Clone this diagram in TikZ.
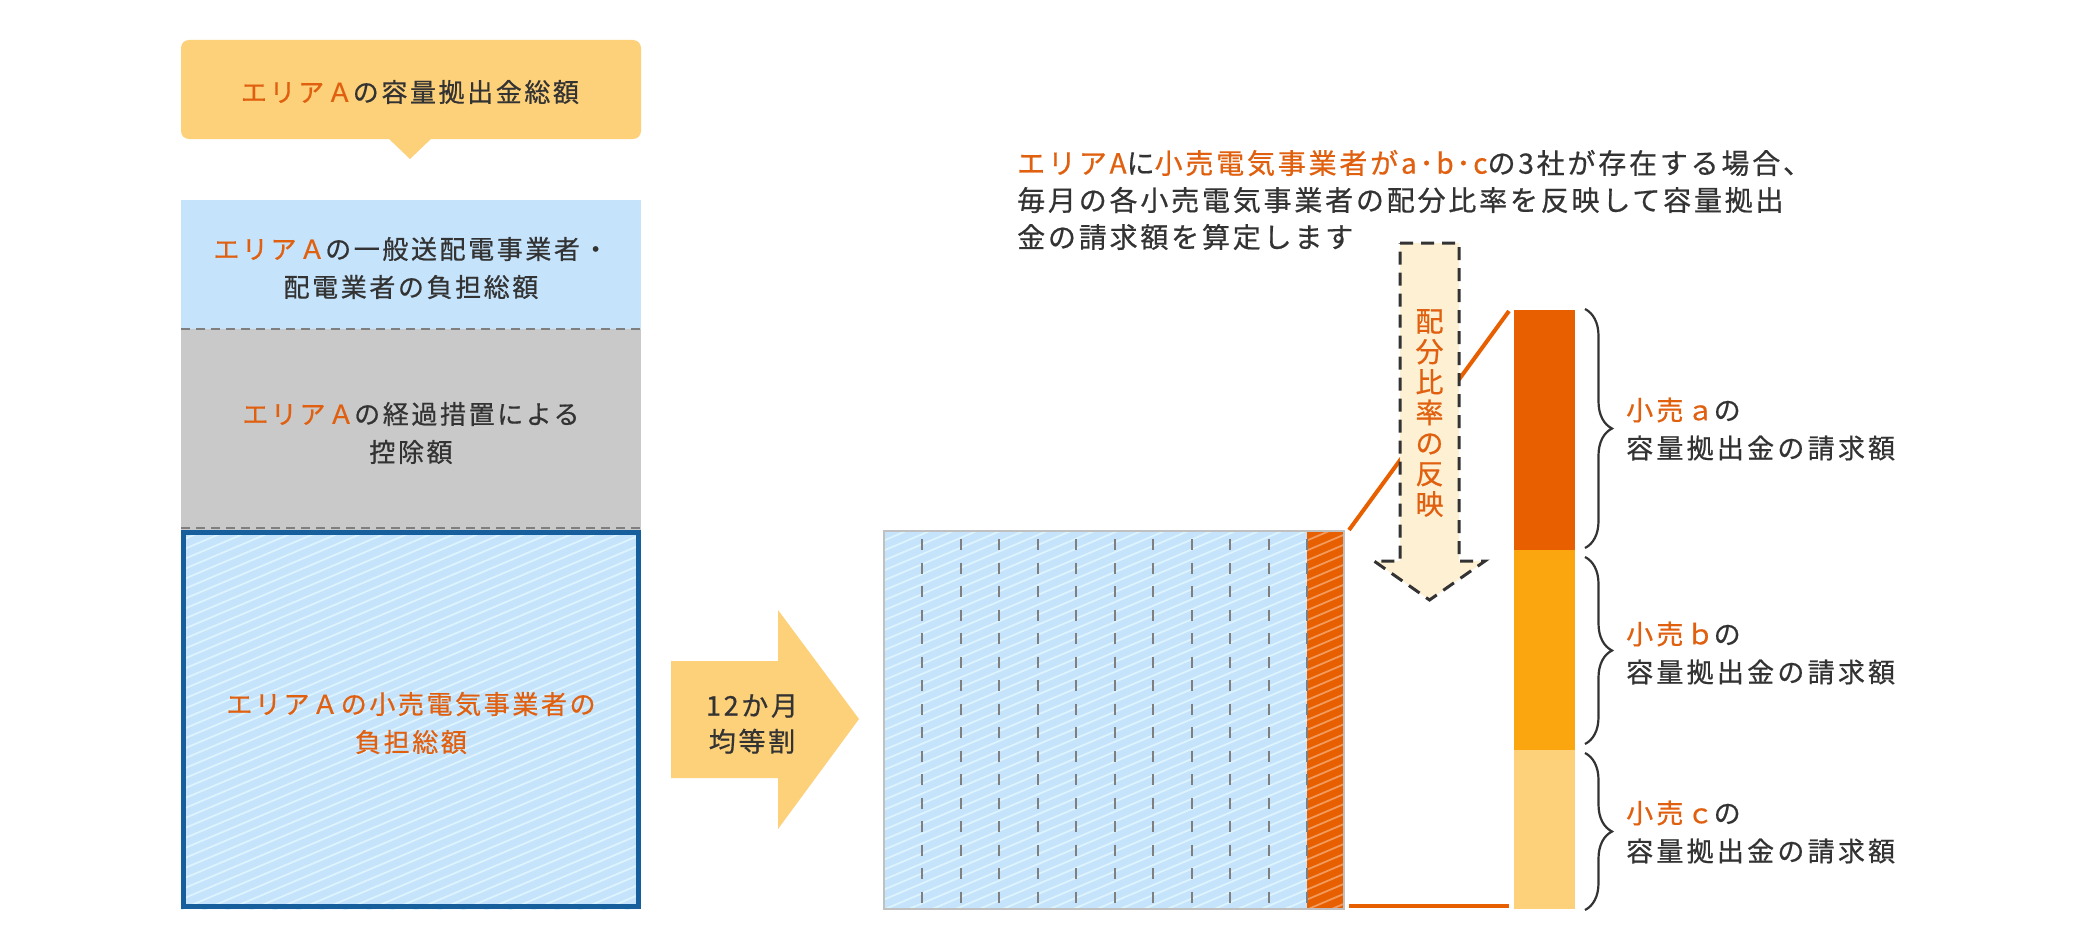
\documentclass[tikz,border=0pt]{standalone}
\usepackage{fontspec}
\setmainfont{Noto Sans CJK JP}[FakeBold=0.6]
\newfontfamily\jpa[LetterSpace=10,FakeBold=0.6]{Noto Sans CJK JP}
\newfontfamily\jpb[LetterSpace=12,FakeBold=0.6]{Noto Sans CJK JP}
\usetikzlibrary{decorations.pathreplacing}
\definecolor{org}{HTML}{E0600F}
\definecolor{txt}{HTML}{333333}
\definecolor{lblue}{HTML}{C5E3FB}
\definecolor{stripe}{HTML}{DDF4FF}
\definecolor{ostripe}{HTML}{F29A5C}
\definecolor{gry}{HTML}{C9C9C9}
\definecolor{dash}{HTML}{7F7F7F}
\definecolor{dblue}{HTML}{175E9C}
\definecolor{yel}{HTML}{FDD07A}
\definecolor{ora}{HTML}{E85F00}
\definecolor{orb}{HTML}{FBA50F}
\definecolor{cream}{HTML}{FEF0D3}
\definecolor{bord}{HTML}{C0C0C0}
\newcommand{\mystripes}[6]{%
  \begin{scope}
    \clip (#1,#2) rectangle (#3,#4);
    \foreach \k in {0,...,#6}
      \draw[#5, line width=1.8pt] ({#1-920+\k*23.5},{#4+12}) -- ++(-23:1500);
  \end{scope}}
\begin{document}
\begin{tikzpicture}[x=1pt,y=-1pt,
  lbl/.style={text=txt, align=center, inner sep=0pt},
  boxtext/.style={lbl, font=\jpa\fontsize{26}{38}\selectfont},
  sepline/.style={draw=dash, line width=2.5pt, dash pattern=on 9pt off 6pt},
  divider/.style={draw=dash, line width=2pt, dash pattern=on 11pt off 12.5pt, dash phase=-8pt},
  orline/.style={draw=ora, line width=4pt},
  brc/.style={draw=txt, line width=2.2pt, decorate, decoration={brace, amplitude=27pt}},
  rlabel/.style={lbl, align=left, anchor=west, font=\jpb\fontsize{27}{38}\selectfont}
]
\useasboundingbox[fill=white] (0,0) rectangle (2080,950);

% ---- top bubble
\fill[yel, rounded corners=8pt] (181,40) rectangle (641,139);
\fill[yel] (388,138) -- (432,138) -- (410,159) -- cycle;
\node[boxtext] (bubble) at (410,92) {{\color{org}エリアＡ}の容量拠出金総額};

% ---- left stack
\fill[lblue] (181,200) rectangle (641,329);
\fill[gry] (181,329) rectangle (641,530);
\fill[lblue] (181,530) rectangle (641,909);
\mystripes{181}{530}{641}{909}{stripe}{62}
\draw[sepline] (181,329) -- (641,329);
\draw[sepline] (181,528) -- (641,528);
\draw[dblue, line width=5pt] (183.5,532.5) rectangle (638.5,906.5);
\node[boxtext] (gen) at (411,268) {{\color{org}エリアＡ}の一般送配電事業者・\\配電業者の負担総額};
\node[boxtext] (ded) at (411,433) {{\color{org}エリアＡ}の経過措置による\\控除額};
\node[boxtext, text=org] (ret) at (411,723) {エリアＡの小売電気事業者の\\負担総額};

% ---- 12-month arrow
\fill[yel] (671,661) -- (778,661) -- (778,610) -- (859,719) -- (778,829) -- (778,778) -- (671,778) -- cycle;
\node[lbl, font=\jpa\fontsize{27}{36}\selectfont] (split) at (752,724) {12か月\\均等割};

% ---- monthly block
\fill[lblue] (884,531) rectangle (1307,909);
\fill[ora] (1307,531) rectangle (1344,909);
\mystripes{884}{531}{1307}{909}{stripe}{62}
\mystripes{1307}{531}{1344}{909}{ostripe}{62}
\foreach \k in {1,...,11}
  \draw[divider] ({884+\k*38.45},531) -- ({884+\k*38.45},909);
\draw[bord, line width=1.5pt] (884,531) rectangle (1344,909);
\coordinate (stripTR) at (1349,530);
\coordinate (stripBR) at (1349,906);

% ---- stacked bar
\fill[ora] (1514,310) rectangle (1575,550);
\fill[orb] (1514,550) rectangle (1575,750);
\fill[yel] (1514,750) rectangle (1575,909);
\coordinate (barTL) at (1509,311);
\coordinate (barBL) at (1509,906);

% ---- connectors
\draw[orline] (stripTR) -- (barTL);
\draw[orline] (stripBR) -- (barBL);

% ---- dashed arrow
\draw[fill=cream, draw=txt, line width=3pt, dash pattern=on 13pt off 8pt]
  (1400,243) -- (1459,243) -- (1459,561) -- (1485,561) -- (1429.5,600) -- (1374,561) -- (1400,561) -- cycle;
\node[lbl, text=org, font=\fontsize{28}{30.5}\selectfont] (reflect) at (1429.5,413) {配\\分\\比\\率\\の\\反\\映};

% ---- braces
\draw[brc] (1585,309) -- (1585,548);
\draw[brc] (1585,557) -- (1585,744);
\draw[brc] (1585,753) -- (1585,910);
\node[rlabel] (la) at (1626,429) {{\color{org}小売ａ}の\\容量拠出金の請求額};
\node[rlabel] (lb) at (1626,653) {{\color{org}小売ｂ}の\\容量拠出金の請求額};
\node[rlabel] (lc) at (1626,832) {{\color{org}小売ｃ}の\\容量拠出金の請求額};

% ---- explanation
\node[lbl, align=left, anchor=west, font=\jpa\fontsize{28}{37}\selectfont] (expl) at (1017,200)
  {{\color{org}エリアA}に{\color{org}小売電気事業者がa･b･c}の3社が存在する場合、\\毎月の各小売電気事業者の配分比率を反映して容量拠出\\金の請求額を算定します};
\end{tikzpicture}
\end{document}
